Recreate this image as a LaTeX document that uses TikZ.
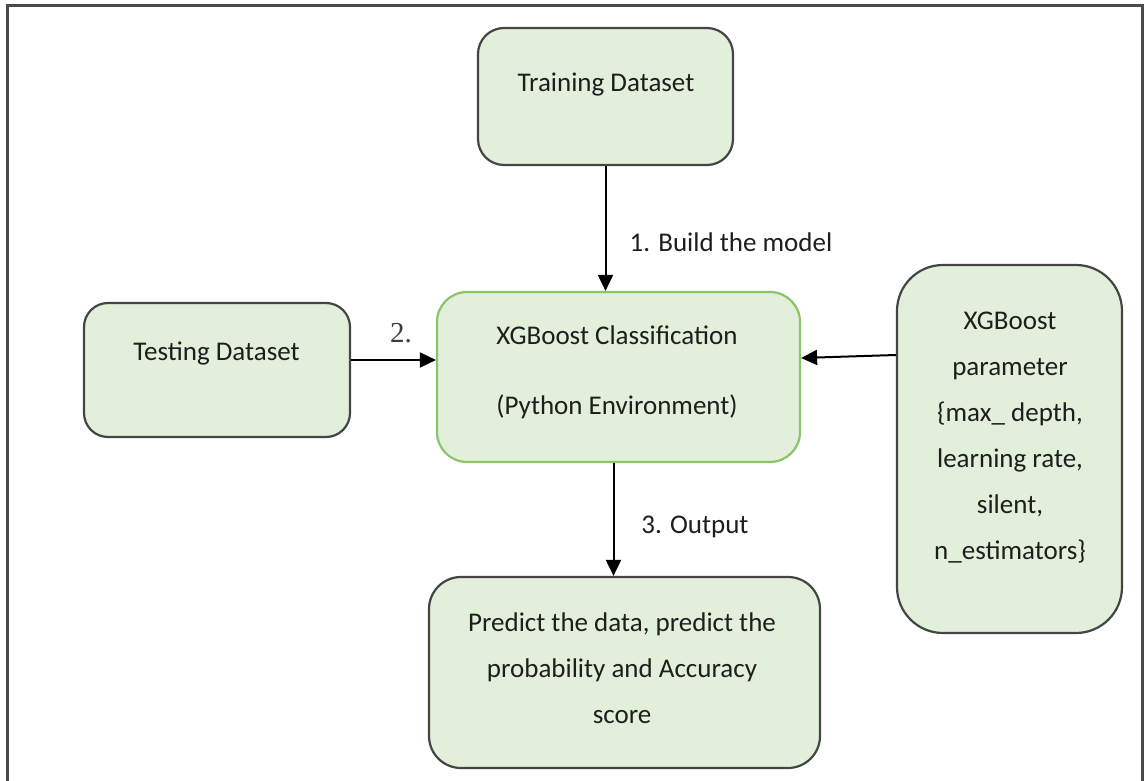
\documentclass[tikz,border=0pt]{standalone}
\usepackage{fontspec}
\setmainfont{Carlito}
\newfontfamily\numfont{Liberation Serif}
\usetikzlibrary{arrows.meta}

\definecolor{boxfill}{HTML}{E2EFDA}
\definecolor{boxline}{HTML}{454545}
\definecolor{coreline}{HTML}{8CC46A}
\definecolor{inktext}{HTML}{1E1E1E}
\definecolor{framecol}{HTML}{4A4A4A}
\definecolor{numcol}{HTML}{3C3C44}

\tikzset{
  stage/.style={draw=boxline, line width=2.2pt, fill=boxfill, rounded corners=#1, inner sep=0pt},
  stage/.default=24pt,
  caption/.style={text=inktext, align=center, inner sep=0pt, font=\fontsize{27}{46}\selectfont},
  flow/.style={draw=black, line width=2pt, -{Triangle[length=16pt,width=15pt]}},
  steplabel/.style={text=inktext, inner sep=0pt, font=\fontsize{27}{32}\selectfont}
}

\begin{document}
\begin{tikzpicture}[x=1pt,y=-1pt]
\useasboundingbox (0,0) rectangle (1144,781);

% outer frame, open at the bottom edge
\draw[framecol, line width=3pt] (7,781) -- (7,6) -- (1142,6) -- (1142,781);

% boxes
\node[stage=26pt, minimum width=255pt, minimum height=137pt] (train) at (605.5,96.5) {};
\node[stage=24pt, minimum width=266pt, minimum height=134pt] (test) at (217,370) {};
\node[stage=30pt, draw=coreline, minimum width=363pt, minimum height=170pt] (xgb) at (618.5,377) {};
\node[stage=46pt, minimum width=225pt, minimum height=368pt] (param) at (1009.5,449) {};
\node[stage=32pt, minimum width=391pt, minimum height=191pt] (pred) at (624.5,672.5) {};

% box texts
\node[caption] (traintxt) at (606,85) {Training Dataset};
\node[caption] (testtxt) at (216.5,353) {Testing Dataset};
\node[caption] (xgbtxt) at (617,372) {XGBoost Classification\\[24pt](Python Environment)};
\node[caption] (paramtxt) at (1010,437.5) {XGBoost\\parameter\\\{max\_ depth,\\learning rate,\\silent,\\n\_estimators\}};
\node[caption] (predtxt) at (622,668) {Predict the data, predict the\\probability and Accuracy\\score};

% connectors
\draw[flow] (train.south) -- (train.south |- xgb.north);
\draw[flow] ([yshift=10pt]test.east) -- ([yshift=10pt]test.east -| xgb.west);
\draw[flow] ([yshift=94pt]param.west) -- ([yshift=19pt]xgb.east);
\draw[flow] ([xshift=-5pt]xgb.south) -- ([xshift=-5pt]xgb.south |- pred.north);

% connector labels
\node[steplabel] (lab1) at (731,242) {1. Build the model};
\node[text=numcol, inner sep=0pt, font=\numfont\fontsize{29}{32}\selectfont] (lab2) at (401,333) {2.};
\node[steplabel] (lab3) at (695,527) {3. Output};
\end{tikzpicture}
\end{document}
